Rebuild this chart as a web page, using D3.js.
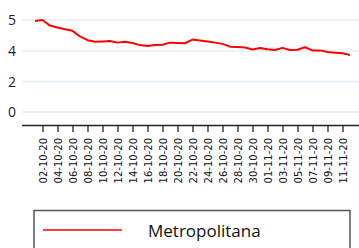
<!DOCTYPE html>
<meta charset='utf-8'>
<style>
body { margin: 0; background: #fff; }
svg { display: block; }
.grid line { stroke: #e6edf3; stroke-width: 1.5px; }
.ylab { font-family: 'Open Sans', sans-serif; font-size: 14px; fill: #222; }
.xaxis text { font-family: 'DejaVu Sans', sans-serif; font-size: 10px; fill: #111; }
.xaxis line, .xaxis path { stroke: #222; }
</style>
<svg width="359" height="248"></svg>
<script src="https://d3js.org/d3.v7.min.js"></script>
<script>
// daily dates, 01-10-20 .. 12-11-20
const dates = ['01-10-20','02-10-20','03-10-20','04-10-20','05-10-20','06-10-20','07-10-20',
  '08-10-20','09-10-20','10-10-20','11-10-20','12-10-20','13-10-20','14-10-20','15-10-20',
  '16-10-20','17-10-20','18-10-20','19-10-20','20-10-20','21-10-20','22-10-20','23-10-20',
  '24-10-20','25-10-20','26-10-20','27-10-20','28-10-20','29-10-20','30-10-20','31-10-20',
  '01-11-20','02-11-20','03-11-20','04-11-20','05-11-20','06-11-20','07-11-20','08-11-20',
  '09-11-20','10-11-20','11-11-20','12-11-20'];

const metropolitana = [4.97, 5.00, 4.82, 4.76, 4.70, 4.65, 4.47, 4.35, 4.30, 4.31, 4.32,
  4.27, 4.30, 4.26, 4.19, 4.16, 4.19, 4.20, 4.27, 4.26, 4.25, 4.37, 4.34, 4.31, 4.27,
  4.23, 4.14, 4.13, 4.11, 4.05, 4.10, 4.06, 4.03, 4.10, 4.03, 4.04, 4.12, 4.02, 4.02,
  3.93, 3.89, 3.85, 3.74];

const yTicks = [0, 2, 4, 5];
const xTickLabels = dates.filter((d, i) => i % 2 === 1);
const seriesName = 'Metropolitana';

const svg = d3.select('svg');
const left = 22, right = 359, axisY = 125;

const x = d3.scalePoint().domain(dates).range([35, 350]);
// the source axis spaces its labels evenly, not linearly
const y = d3.scaleLinear().domain(yTicks).range([112, 81.5, 51, 20]);

const grid = svg.append('g').attr('class', 'grid');
grid.selectAll('line').data(yTicks).join('line')
  .attr('x1', left).attr('x2', right)
  .attr('y1', d => y(d)).attr('y2', d => y(d));

svg.append('g').selectAll('text').data(yTicks).join('text')
  .attr('class', 'ylab')
  .attr('x', 16).attr('y', d => y(d))
  .attr('dy', '0.36em')
  .attr('text-anchor', 'end')
  .text(d => d);

const xa = svg.append('g').attr('class', 'xaxis')
  .attr('transform', `translate(0,${axisY})`)
  .call(d3.axisBottom(x).tickValues(xTickLabels).tickSize(7).tickSizeOuter(0));
xa.select('.domain').attr('d', `M${left},0.5H${right}`).attr('stroke-width', 1.3);
xa.selectAll('.tick line').attr('stroke-width', 1.3);
xa.selectAll('.tick text')
  .attr('transform', 'rotate(-90)')
  .attr('text-anchor', 'end')
  .attr('x', -13).attr('y', 0).attr('dy', '0.36em');

svg.append('path')
  .datum(metropolitana)
  .attr('fill', 'none')
  .attr('stroke', '#ff0000')
  .attr('stroke-width', 2)
  .attr('stroke-linejoin', 'round')
  .attr('d', d3.line().x((d, i) => x(dates[i])).y(d => y(d)));

// legend
const lg = svg.append('g');
lg.append('rect')
  .attr('x', 34).attr('y', 210.5).attr('width', 316).attr('height', 60)
  .attr('fill', 'none').attr('stroke', '#555').attr('stroke-width', 1.5);
lg.append('line')
  .attr('x1', 43).attr('x2', 122).attr('y1', 230).attr('y2', 230)
  .attr('stroke', '#ff0000').attr('stroke-width', 1.5);
lg.append('text')
  .attr('x', 148).attr('y', 237)
  .attr('font-family', 'Open Sans, sans-serif')
  .attr('font-size', 17).attr('fill', '#111')
  .text(seriesName);
</script>
